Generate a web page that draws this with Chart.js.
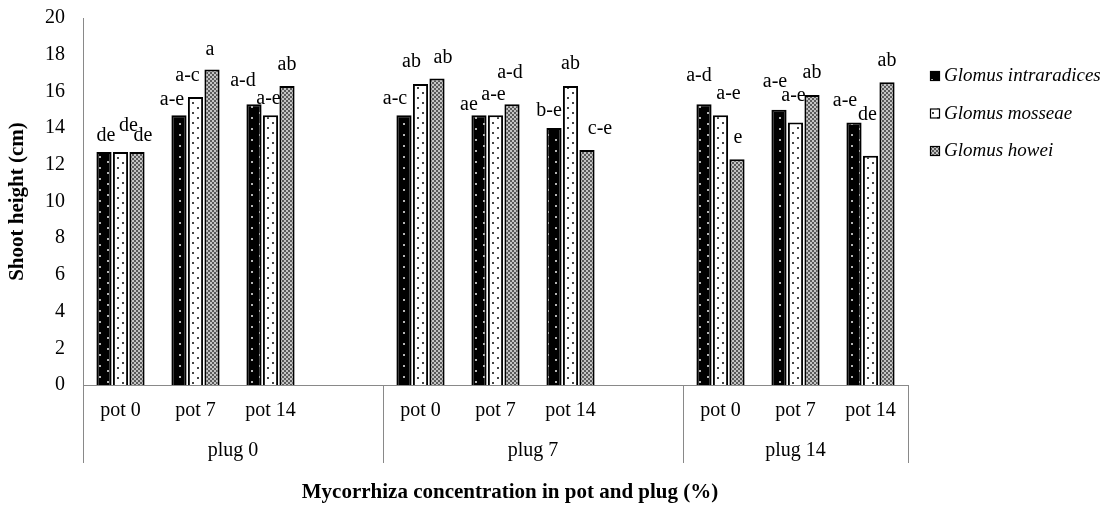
<!DOCTYPE html>
<html>
<head>
<meta charset="utf-8">
<script src="https://cdn.jsdelivr.net/npm/chart.js@4.4.1/dist/chart.umd.min.js"></script>
<style>
  html, body { margin: 0; background: #fff; }
  #c { display: block; }
</style>
</head>
<body>
<canvas id="c" width="1100" height="527"></canvas>
<script>
// categories: 3 pots per plug, blank slot between plug groups
const labels = ['pot 0', 'pot 7', 'pot 14', '', 'pot 0', 'pot 7', 'pot 14', '', 'pot 0', 'pot 7', 'pot 14'];
const groups = ['plug 0', 'plug 7', 'plug 14'];
const groupStarts = [0, 4, 8];

const seriesNames = ['Glomus intraradices', 'Glomus mosseae', 'Glomus howei'];
const intraradices = [12.7, 14.7, 15.3, null, 14.7, 14.7, 14.0, null, 15.3, 15.0, 14.3];
const mosseae      = [12.7, 15.7, 14.7, null, 16.4, 14.7, 16.3, null, 14.7, 14.3, 12.5];
const howei        = [12.7, 17.2, 16.3, null, 16.7, 15.3, 12.8, null, 12.3, 15.8, 16.5];

// significance letters
const lettersI = ['de', 'a-e', 'a-d', '', 'a-c', 'ae', 'b-e', '', 'a-d', 'a-e', 'a-e'];
const lettersM = ['de', 'a-c', 'a-e', '', 'ab', 'a-e', 'ab', '', 'a-e', 'a-e', 'de'];
const lettersH = ['de', 'a', 'ab', '', 'ab', 'a-d', 'c-e', '', 'e', 'ab', 'ab'];

const yTicks = [0, 2, 4, 6, 8, 10, 12, 14, 16, 18, 20];

// label placement tweaks [dx, rise above bar top] - the letters were hand-moved in the original
const nudgeI = [[2,16],[-7,16],[-11,23],null,[-9,17],[-10,11],[-5,17],null,[-5,28],[-4,28],[-9,22]];
const nudgeM = [[8,26],[-8,21],[-2,17],null,[-9,22],[-2,21],[0,22],null,[8,22],[-2,27],[-3,41]];
const nudgeH = [[6,16],[-2,20],[0,21],null,[6,21],[-2,31],[13,21],null,[1,22],[0,22],[0,21]];

const SERIF = "'Liberation Serif', 'Times New Roman', serif";
const AXIS = '#898989';

function tile(w, h, draw) {
  const c = document.createElement('canvas');
  c.width = w; c.height = h;
  draw(c.getContext('2d'));
  return c.getContext('2d').createPattern(c, 'repeat');
}
const patBlack = tile(16, 11, g => {
  g.fillStyle = '#000'; g.fillRect(0, 0, 16, 11);
  g.fillStyle = '#b5b5b5'; g.fillRect(3, 2, 2, 2); g.fillRect(11, 7, 2, 2);
});
const patWhite = tile(10, 10, g => {
  g.fillStyle = '#fff'; g.fillRect(0, 0, 10, 10);
  g.fillStyle = '#444'; g.fillRect(2, 2, 2, 2); g.fillRect(7, 7, 2, 2);
});
const patGray = tile(4, 4, g => {
  g.fillStyle = '#5a5a5a'; g.fillRect(0, 0, 4, 4);
  g.fillStyle = '#c4c4c4'; g.fillRect(0, 0, 2, 2); g.fillRect(2, 2, 2, 2);
});
const fills = [patBlack, patWhite, patGray];
const letters = [lettersI, lettersM, lettersH];
const nudges = [nudgeI, nudgeM, nudgeH];

const extras = {
  id: 'extras',
  afterDraw(chart) {
    const { ctx, chartArea: a } = chart;
    const slot = (a.right - a.left) / labels.length;
    ctx.save();

    // group boxes below the axis
    ctx.strokeStyle = AXIS; ctx.lineWidth = 1;
    const bounds = groupStarts.concat(labels.length).map(i => a.left + i * slot);
    bounds.forEach(bx => {
      ctx.beginPath(); ctx.moveTo(Math.round(bx) + .5, a.bottom); ctx.lineTo(Math.round(bx) + .5, a.bottom + 78); ctx.stroke();
    });
    ctx.fillStyle = '#000'; ctx.font = `20px ${SERIF}`;
    ctx.textAlign = 'center'; ctx.textBaseline = 'middle';
    groups.forEach((g, i) => ctx.fillText(g, (bounds[i] + bounds[i + 1]) / 2, a.bottom + 66));

    // letters over bars
    chart.data.datasets.forEach((ds, di) => {
      chart.getDatasetMeta(di).data.forEach((bar, i) => {
        const t = letters[di][i], n = nudges[di][i];
        if (!t || ds.data[i] == null) return;
        ctx.fillText(t, bar.x + n[0], bar.y - n[1]);
      });
    });

    // legend
    ctx.textAlign = 'left'; ctx.font = `italic 19px ${SERIF}`;
    seriesNames.forEach((s, i) => {
      const ly = 76 + i * 37.5;
      ctx.fillStyle = fills[i]; ctx.fillRect(930, ly - 5, 10, 10);
      ctx.strokeStyle = '#000'; ctx.lineWidth = 1.2; ctx.strokeRect(930.5, ly - 4.5, 9, 9);
      ctx.fillStyle = '#000'; ctx.fillText(s, 944, ly);
    });

    // x axis title
    ctx.font = `bold 21px ${SERIF}`; ctx.textAlign = 'center';
    ctx.fillText('Mycorrhiza concentration in pot and plug (%)', 510, 493);
    ctx.restore();
  }
};

const mk = (i, data) => ({
  label: seriesNames[i], data, backgroundColor: fills[i],
  borderColor: '#000', borderWidth: 2,
  categoryPercentage: 0.66, barPercentage: 0.92
});

new Chart(document.getElementById('c'), {
  type: 'bar',
  data: { labels, datasets: [mk(0, intraradices), mk(1, mosseae), mk(2, howei)] },
  options: {
    responsive: false, animation: false,
    layout: { padding: { top: 18, right: 192, bottom: 0, left: 0 } },
    plugins: { legend: { display: false }, tooltip: { enabled: false } },
    scales: {
      x: {
        grid: { display: false, drawTicks: false },
        border: { color: AXIS, width: 1 },
        ticks: { autoSkip: false, maxRotation: 0, padding: 14, color: '#000', font: { family: SERIF, size: 20 } },
        afterFit: s => { s.height = 142; }
      },
      y: {
        min: 0, max: 20,
        afterBuildTicks: s => { s.ticks = yTicks.map(v => ({ value: v })); },
        grid: { display: false, drawTicks: false },
        border: { color: AXIS, width: 1 },
        ticks: { padding: 18, color: '#000', font: { family: SERIF, size: 20 } },
        title: { display: true, text: 'Shoot height (cm)', color: '#000',
                 font: { family: SERIF, size: 21, weight: 'bold' }, padding: { top: 5, bottom: 0 } },
        afterFit: s => { s.width = 83; s.paddingTop = 0; s.paddingBottom = 0; }
      }
    }
  },
  plugins: [extras]
});
</script>
</body>
</html>
